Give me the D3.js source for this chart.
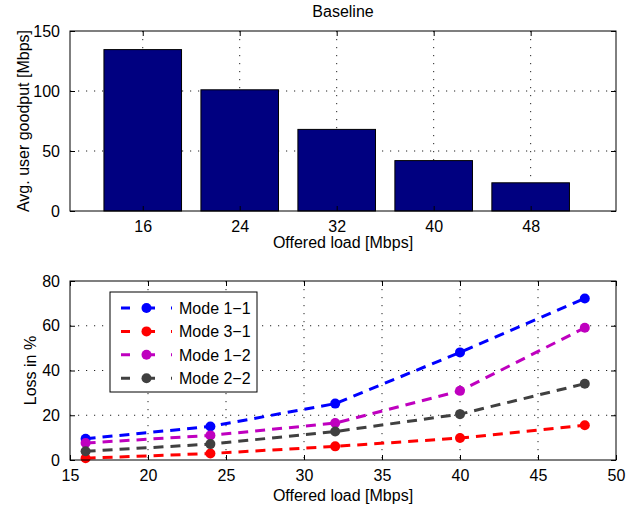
<!DOCTYPE html>
<html>
<head>
<meta charset="utf-8">
<script src="https://d3js.org/d3.v7.min.js"></script>
<style>
  body { margin: 0; background: #fff; }
  svg { display: block; font-family: "Liberation Sans", Arial, sans-serif; }
</style>
</head>
<body>
<script>
// ---- Data ----
const loadCategories = ["16", "24", "32", "40", "48"];
const goodputValues = [134.5, 101, 68, 42, 23.5];
const goodputTicks = [0, 50, 100, 150];

const offeredLoad = [16, 24, 32, 40, 48];
const seriesNames = ["Mode 1\u22121", "Mode 3\u22121", "Mode 1\u22122", "Mode 2\u22122"];
const mode11 = [9.5, 15, 25.2, 48.1, 72.2];
const mode31 = [0.8, 2.9, 6.1, 9.8, 15.5];
const mode12 = [7.6, 11, 16.5, 30.9, 59.1];
const mode22 = [3.9, 7.1, 12.7, 20.5, 34.1];
const seriesColors = ["#0000ff", "#ff0000", "#bf00bf", "#404040"];
const lossXTicks = [15, 20, 25, 30, 35, 40, 45, 50];
const lossYTicks = [0, 20, 40, 60, 80];

const W = 642, H = 508;
const svg = d3.select("body").append("svg").attr("width", W).attr("height", H);

const FS = 16;
const gridStyle = sel => sel.attr("stroke", "#222").attr("stroke-width", 1)
  .attr("stroke-dasharray", "1.2,6.8").attr("fill", "none");

// ================= Top chart =================
const t = { left: 70, right: 616, top: 31, bottom: 211 };
const xTop = d3.scaleLinear().domain([0.25, 5.88]).range([t.left, t.right]);
const yTop = d3.scaleLinear().domain([0, 150]).range([t.bottom, t.top]);
const gT = svg.append("g");

// grid
gT.selectAll(".gx").data(loadCategories).enter().append("line")
  .attr("x1", (d, i) => xTop(i + 1)).attr("x2", (d, i) => xTop(i + 1))
  .attr("y1", t.top).attr("y2", t.bottom).call(gridStyle);
gT.selectAll(".gy").data(goodputTicks.slice(1, -1)).enter().append("line")
  .attr("x1", t.left).attr("x2", t.right)
  .attr("y1", d => yTop(d)).attr("y2", d => yTop(d)).call(gridStyle);

// bars
gT.selectAll(".bar").data(goodputValues).enter().append("rect")
  .attr("x", (d, i) => xTop(i + 1 - 0.4))
  .attr("width", xTop(1.8) - xTop(1))
  .attr("y", d => yTop(d))
  .attr("height", d => yTop(0) - yTop(d))
  .attr("fill", "#000080").attr("stroke", "#000").attr("stroke-width", 1);

// box
gT.append("rect").attr("x", t.left).attr("y", t.top)
  .attr("width", t.right - t.left).attr("height", t.bottom - t.top)
  .attr("fill", "none").attr("stroke", "#000").attr("stroke-width", 1);

// axes with inward ticks
const axBT = d3.axisBottom(xTop).tickValues(loadCategories.map((d, i) => i + 1))
  .tickFormat((d, i) => loadCategories[i]).tickSizeInner(-5).tickSizeOuter(0).tickPadding(10);
const axTT = d3.axisTop(xTop).tickValues(loadCategories.map((d, i) => i + 1))
  .tickFormat("").tickSizeInner(-5).tickSizeOuter(0);
const axLT = d3.axisLeft(yTop).tickValues(goodputTicks).tickSizeInner(-5).tickSizeOuter(0).tickPadding(10);
const axRT = d3.axisRight(yTop).tickValues(goodputTicks).tickFormat("").tickSizeInner(-5).tickSizeOuter(0);

function styleAxis(g) {
  g.select(".domain").remove();
  g.selectAll("line").attr("stroke", "#000");
  g.selectAll("text").attr("font-size", FS).attr("fill", "#000")
    .attr("font-family", "Liberation Sans, Arial, sans-serif");
}
gT.append("g").attr("transform", `translate(0,${t.bottom})`).call(axBT).call(styleAxis);
gT.append("g").attr("transform", `translate(0,${t.top})`).call(axTT).call(styleAxis);
gT.append("g").attr("transform", `translate(${t.left},0)`).call(axLT).call(styleAxis);
gT.append("g").attr("transform", `translate(${t.right},0)`).call(axRT).call(styleAxis);

// labels
gT.append("text").attr("x", (t.left + t.right) / 2).attr("y", 17)
  .attr("text-anchor", "middle").attr("font-size", FS).text("Baseline");
gT.append("text").attr("x", (t.left + t.right) / 2).attr("y", 248)
  .attr("text-anchor", "middle").attr("font-size", FS).text("Offered load [Mbps]");
gT.append("text").attr("transform", `translate(29,${(t.top + t.bottom) / 2}) rotate(-90)`)
  .attr("text-anchor", "middle").attr("font-size", FS).text("Avg. user goodput [Mbps]");

// ================= Bottom chart =================
const b = { left: 70, right: 616, top: 281, bottom: 460 };
const xB = d3.scaleLinear().domain([15, 50]).range([b.left, b.right]);
const yB = d3.scaleLinear().domain([0, 80]).range([b.bottom, b.top]);
const gB = svg.append("g");

gB.selectAll(".gx").data(lossXTicks.slice(1, -1)).enter().append("line")
  .attr("x1", d => xB(d)).attr("x2", d => xB(d))
  .attr("y1", b.top).attr("y2", b.bottom).call(gridStyle);
gB.selectAll(".gy").data(lossYTicks.slice(1, -1)).enter().append("line")
  .attr("x1", b.left).attr("x2", b.right)
  .attr("y1", d => yB(d)).attr("y2", d => yB(d)).call(gridStyle);

const allSeries = [mode11, mode31, mode12, mode22];
const line = d3.line().x((d, i) => xB(offeredLoad[i])).y(d => yB(d));

allSeries.forEach((s, k) => {
  gB.append("path").datum(s).attr("d", line)
    .attr("fill", "none").attr("stroke", seriesColors[k])
    .attr("stroke-width", 3).attr("stroke-dasharray", "10,7");
  gB.selectAll(".pt" + k).data(s).enter().append("circle")
    .attr("cx", (d, i) => xB(offeredLoad[i])).attr("cy", d => yB(d))
    .attr("r", 5).attr("fill", seriesColors[k]);
});

gB.append("rect").attr("x", b.left).attr("y", b.top)
  .attr("width", b.right - b.left).attr("height", b.bottom - b.top)
  .attr("fill", "none").attr("stroke", "#000").attr("stroke-width", 1);

const axBB = d3.axisBottom(xB).tickValues(lossXTicks).tickSizeInner(-5).tickSizeOuter(0).tickPadding(10);
const axTB = d3.axisTop(xB).tickValues(lossXTicks).tickFormat("").tickSizeInner(-5).tickSizeOuter(0);
const axLB = d3.axisLeft(yB).tickValues(lossYTicks).tickSizeInner(-5).tickSizeOuter(0).tickPadding(10);
const axRB = d3.axisRight(yB).tickValues(lossYTicks).tickFormat("").tickSizeInner(-5).tickSizeOuter(0);
gB.append("g").attr("transform", `translate(0,${b.bottom})`).call(axBB).call(styleAxis);
gB.append("g").attr("transform", `translate(0,${b.top})`).call(axTB).call(styleAxis);
gB.append("g").attr("transform", `translate(${b.left},0)`).call(axLB).call(styleAxis);
gB.append("g").attr("transform", `translate(${b.right},0)`).call(axRB).call(styleAxis);

gB.append("text").attr("x", (b.left + b.right) / 2).attr("y", 501)
  .attr("text-anchor", "middle").attr("font-size", FS).text("Offered load [Mbps]");
gB.append("text").attr("transform", `translate(36,${(b.top + b.bottom) / 2}) rotate(-90)`)
  .attr("text-anchor", "middle").attr("font-size", FS).text("Loss in %");

// legend
const lg = gB.append("g");
lg.append("rect").attr("x", 110).attr("y", 292).attr("width", 147).attr("height", 100)
  .attr("fill", "#fff").attr("stroke", "#000").attr("stroke-width", 1);
seriesNames.forEach((name, k) => {
  const cy = 308 + k * 23.4;
  lg.append("line").attr("x1", 121).attr("x2", 172).attr("y1", cy).attr("y2", cy)
    .attr("stroke", seriesColors[k]).attr("stroke-width", 3).attr("stroke-dasharray", "9,16");
  lg.append("circle").attr("cx", 146.5).attr("cy", cy).attr("r", 5).attr("fill", seriesColors[k]);
  lg.append("text").attr("x", 179).attr("y", cy + 6).attr("font-size", FS).text(name);
});
</script>
</body>
</html>
